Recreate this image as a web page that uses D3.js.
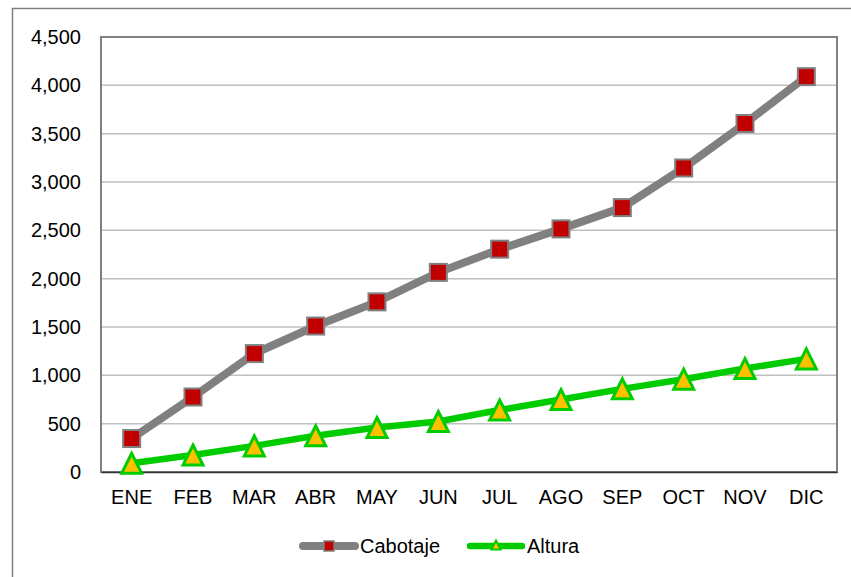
<!DOCTYPE html>
<html>
<head>
<meta charset="utf-8">
<script src="https://cdn.jsdelivr.net/npm/d3@7"></script>
<style>
  body { margin: 0; background: #fff; }
  svg { display: block; font-family: "Liberation Sans", Arial, sans-serif; }
</style>
</head>
<body>
<svg id="chart" width="851" height="577"></svg>
<script>
// data
const months = ["ENE", "FEB", "MAR", "ABR", "MAY", "JUN", "JUL", "AGO", "SEP", "OCT", "NOV", "DIC"];
const cabotaje = [346, 776, 1225, 1510, 1760, 2065, 2305, 2515, 2735, 3145, 3605, 4090];
const altura = [90, 176, 270, 375, 460, 522, 641, 750, 860, 960, 1070, 1170];
const yTicks = [0, 500, 1000, 1500, 2000, 2500, 3000, 3500, 4000, 4500];

const svg = d3.select("#chart");

// outer chart frame (runs past right/bottom of the window)
svg.append("rect")
  .attr("x", 12.5).attr("y", 8.5)
  .attr("width", 900).attr("height", 700)
  .attr("fill", "none")
  .attr("stroke", "#808080")
  .attr("stroke-width", 1.5);

const margin = { top: 37, right: 14, bottom: 105, left: 101 };
const width = 851 - margin.left - margin.right;
const height = 577 - margin.top - margin.bottom;

const g = svg.append("g").attr("transform", `translate(${margin.left},${margin.top})`);

const x = d3.scaleBand().domain(months).range([0, width]);
const y = d3.scaleLinear().domain([0, 4500]).range([height, 0]);

// gridlines
g.selectAll(".grid")
  .data(yTicks.slice(1))
  .enter()
  .append("line")
  .attr("x1", 0).attr("x2", width)
  .attr("y1", d => y(d)).attr("y2", d => y(d))
  .attr("stroke", "#c0c0c0")
  .attr("stroke-width", 1.5);

// plot border
g.append("rect")
  .attr("width", width).attr("height", height)
  .attr("fill", "none")
  .attr("stroke", "#808080")
  .attr("stroke-width", 2);

// axes
const yAxis = g.append("g")
  .call(d3.axisLeft(y).tickValues(yTicks).tickFormat(d3.format(",")).tickSize(0).tickPadding(20));
yAxis.select(".domain").remove();
yAxis.selectAll("text").style("font-size", "20px").attr("fill", "#000");

const xAxis = g.append("g")
  .attr("transform", `translate(0,${height})`)
  .call(d3.axisBottom(x).tickSize(0).tickPadding(18));
xAxis.select(".domain").attr("stroke", "#333").attr("stroke-width", 1.5);
xAxis.selectAll("text").style("font-size", "20px").attr("fill", "#000");

const cx = d => x(d) + x.bandwidth() / 2;

// Cabotaje series
g.append("path")
  .datum(cabotaje)
  .attr("fill", "none")
  .attr("stroke", "#808080")
  .attr("stroke-width", 8)
  .attr("d", d3.line().x((d, i) => cx(months[i])).y(d => y(d)));

g.selectAll(".sq")
  .data(cabotaje)
  .enter()
  .append("rect")
  .attr("x", (d, i) => cx(months[i]) - 8.5)
  .attr("y", d => y(d) - 8.5)
  .attr("width", 17).attr("height", 17)
  .attr("fill", "#c00000")
  .attr("stroke", "#808080")
  .attr("stroke-width", 2);

// Altura series
g.append("path")
  .datum(altura)
  .attr("fill", "none")
  .attr("stroke", "#00cc00")
  .attr("stroke-width", 6.5)
  .attr("d", d3.line().x((d, i) => cx(months[i])).y(d => y(d)));

// excel-style triangle: as tall as it is wide
const triPath = (w, h) => `M0,${-h / 2}L${w / 2},${h / 2}L${-w / 2},${h / 2}Z`;
g.selectAll(".tri")
  .data(altura)
  .enter()
  .append("path")
  .attr("transform", (d, i) => `translate(${cx(months[i])},${y(d)})`)
  .attr("d", triPath(20, 20))
  .attr("fill", "#ffc000")
  .attr("stroke", "#00cc00")
  .attr("stroke-width", 3)
  .attr("stroke-linejoin", "miter");

// legend
const legend = svg.append("g").attr("transform", "translate(0,546)");

legend.append("line")
  .attr("x1", 303).attr("x2", 355)
  .attr("stroke", "#808080").attr("stroke-width", 8).attr("stroke-linecap", "round");
legend.append("rect")
  .attr("x", 324).attr("y", -5).attr("width", 10).attr("height", 10)
  .attr("fill", "#c00000").attr("stroke", "#808080").attr("stroke-width", 1.5);
legend.append("text")
  .attr("x", 360).attr("y", 7)
  .style("font-size", "20px")
  .text("Cabotaje");

legend.append("line")
  .attr("x1", 470).attr("x2", 522)
  .attr("stroke", "#00cc00").attr("stroke-width", 6.5).attr("stroke-linecap", "round");
legend.append("path")
  .attr("transform", "translate(496,-1)")
  .attr("d", triPath(9, 9))
  .attr("fill", "#ffc000").attr("stroke", "#00cc00").attr("stroke-width", 2);
legend.append("text")
  .attr("x", 527).attr("y", 7)
  .style("font-size", "20px")
  .text("Altura");
</script>
</body>
</html>
